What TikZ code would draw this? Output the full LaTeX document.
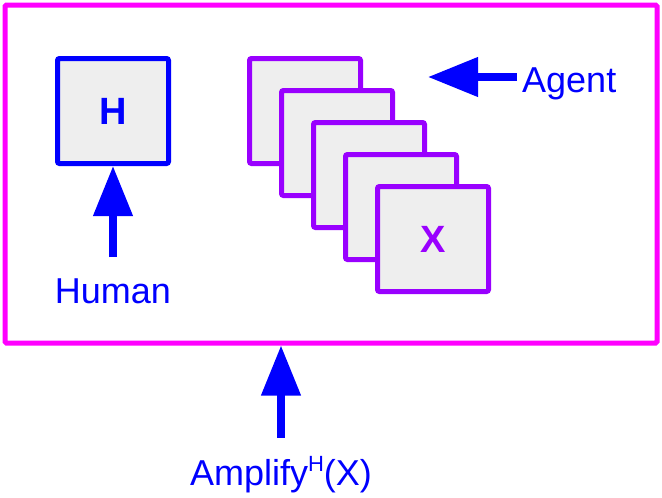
\documentclass[tikz,border=0pt]{standalone}
\usepackage{fontspec}
\setmainfont{Liberation Sans}
\usetikzlibrary{arrows.meta}
\definecolor{ampmagenta}{HTML}{FF00FF}
\definecolor{agentpurple}{HTML}{9900FF}
\definecolor{boxgray}{HTML}{EEEEEE}

\begin{document}
\begin{tikzpicture}[x=1pt,y=-1pt,
		sqbox/.style={draw, line width=5pt, fill=boxgray, minimum width=111pt, minimum height=105pt, rounded corners=2pt, font=\fontsize{38}{40}\selectfont\bfseries},
		lbl/.style={text=blue, inner sep=0pt, font=\fontsize{36}{40}\selectfont},
		uparrow/.style={draw=blue, line width=7.5pt, -{Triangle[length=50pt,width=38pt]}}]
			\useasboundingbox (0,0) rectangle (662,498);

			\node[draw=ampmagenta, line width=5pt, minimum width=652pt, minimum height=338pt, rounded corners=1.5pt] (amp) at (331,174) {};

			\node[sqbox, draw=blue, text=blue] (hum) at (113,111) {H};

			% stacked copies of the agent
			\foreach \i in {0,...,3}
				\node[sqbox, draw=agentpurple] (copy\i) at (305+32*\i,111+32*\i) {};
			\node[sqbox, draw=agentpurple, text=agentpurple] (copy4) at (433,239) {X};

			\node[lbl, anchor=base] (humanlbl) at (113,303) {Human};
			\node[lbl, anchor=base west] (agentlbl) at (522,92) {Agent};
			\coordinate (agenttip) at (428,77);
			\node[lbl, anchor=base] (ampl) at (281,485) {Amplify\raisebox{14pt}{\fontsize{22}{22}\selectfont H}(X)};

			\draw[uparrow, shorten <=21pt] (humanlbl.north) -- (hum.south);
			\draw[uparrow, shorten <=5pt] (agentlbl.west |- agenttip) -- (agenttip);
			\draw[uparrow, shorten <=18pt] (ampl.north) -- (amp.south -| ampl.north);
		\end{tikzpicture}
\end{document}
